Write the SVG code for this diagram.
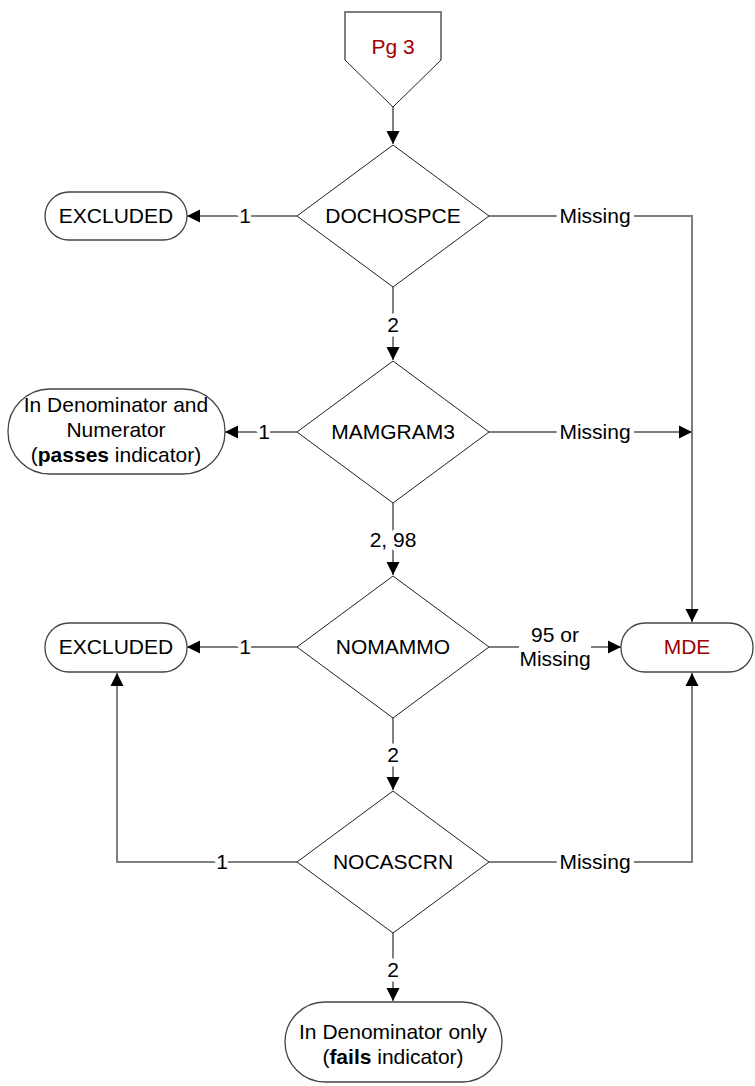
<svg xmlns="http://www.w3.org/2000/svg" width="755" height="1086" viewBox="0 0 755 1086">
<defs>
<marker id="arr" markerUnits="userSpaceOnUse" markerWidth="14" markerHeight="14" viewBox="0 0 14 14" refX="13" refY="7" orient="auto">
<path d="M0,0.5 L13,7 L0,13.5 Z" fill="#000"/>
</marker>
<style>
.conn{fill:none;stroke:#7f7f7f;stroke-width:2}
.shape{fill:#fff;stroke:#222;stroke-width:1}
.term{fill:#fff;stroke:#444;stroke-width:1.3}
text{font-family:"Liberation Sans",Arial,sans-serif;font-size:21px;text-anchor:middle;fill:#000}
.lbl{stroke:#fff;stroke-width:9;paint-order:stroke;stroke-linejoin:round}
.red{fill:#a00000}
</style>
</defs>
<rect width="755" height="1086" fill="#fff"/>
<g id="connectors">
<path class="conn" d="M393,107 L393,144" marker-end="url(#arr)"/>
<path class="conn" d="M297,216 L187,216" marker-end="url(#arr)"/>
<path class="conn" d="M489,216 L692,216 L692,622" marker-end="url(#arr)"/>
<path class="conn" d="M393,287 L393,360" marker-end="url(#arr)"/>
<path class="conn" d="M297,432 L225,432" marker-end="url(#arr)"/>
<path class="conn" d="M489,432 L692,432" marker-end="url(#arr)"/>
<path class="conn" d="M393,503 L393,575" marker-end="url(#arr)"/>
<path class="conn" d="M297,647 L187,647" marker-end="url(#arr)"/>
<path class="conn" d="M489,647 L621,647" marker-end="url(#arr)"/>
<path class="conn" d="M393,718 L393,790" marker-end="url(#arr)"/>
<path class="conn" d="M297,862 L117,862 L117,673" marker-end="url(#arr)"/>
<path class="conn" d="M489,862 L692,862 L692,673" marker-end="url(#arr)"/>
<path class="conn" d="M393,933 L393,1001" marker-end="url(#arr)"/>
<rect x="519" y="625" width="72" height="46" fill="#fff"/>
<text class="lbl" x="245" y="223">1</text>
<text class="lbl" x="595" y="223">Missing</text>
<text class="lbl" x="393" y="332">2</text>
<text class="lbl" x="264" y="439">1</text>
<text class="lbl" x="595" y="439">Missing</text>
<text class="lbl" x="393" y="547">2, 98</text>
<text class="lbl" x="245" y="654">1</text>
<text x="555" y="642">95 or</text>
<text x="555" y="666">Missing</text>
<text class="lbl" x="393" y="762">2</text>
<text class="lbl" x="222" y="869">1</text>
<text class="lbl" x="595" y="869">Missing</text>
<text class="lbl" x="393" y="977">2</text>
</g>
<g id="pg3">
<path d="M345,60 L393,107 L441,60" fill="#fff" stroke="#222" stroke-width="1"/>
<path d="M345,60 L345,12 L441,12 L441,60" fill="#fff" stroke="#7f7f7f" stroke-width="2"/>
<text class="red" x="393" y="54">Pg 3</text>
</g>
<g id="dochospce">
<polygon class="shape" points="393,145 489,216 393,287 297,216"/>
<text x="393" y="223">DOCHOSPCE</text>
</g>
<g id="excluded1">
<rect class="term" x="45" y="192" width="142" height="48" rx="24" ry="24"/>
<text x="116" y="223">EXCLUDED</text>
</g>
<g id="mamgram3">
<polygon class="shape" points="393,361 489,432 393,503 297,432"/>
<text x="393" y="439">MAMGRAM3</text>
</g>
<g id="passes">
<rect class="term" x="8" y="389" width="217" height="85" rx="42" ry="42"/>
<text x="116" y="412">In Denominator and</text>
<text x="116" y="437">Numerator</text>
<text x="116" y="462">(<tspan font-weight="bold">passes</tspan> indicator)</text>
</g>
<g id="nomammo">
<polygon class="shape" points="393,576 489,647 393,718 297,647"/>
<text x="393" y="654">NOMAMMO</text>
</g>
<g id="excluded2">
<rect class="term" x="45" y="623" width="142" height="49" rx="24" ry="24"/>
<text x="116" y="654">EXCLUDED</text>
</g>
<g id="mde">
<rect class="term" x="621" y="623" width="132" height="49" rx="24" ry="24"/>
<text class="red" x="687" y="654">MDE</text>
</g>
<g id="nocascrn">
<polygon class="shape" points="393,791 489,862 393,933 297,862"/>
<text x="393" y="869">NOCASCRN</text>
</g>
<g id="fails">
<rect class="term" x="285" y="1002" width="217" height="80" rx="40" ry="40"/>
<text x="393" y="1039">In Denominator only</text>
<text x="393" y="1064">(<tspan font-weight="bold">fails</tspan> indicator)</text>
</g>
</svg>
